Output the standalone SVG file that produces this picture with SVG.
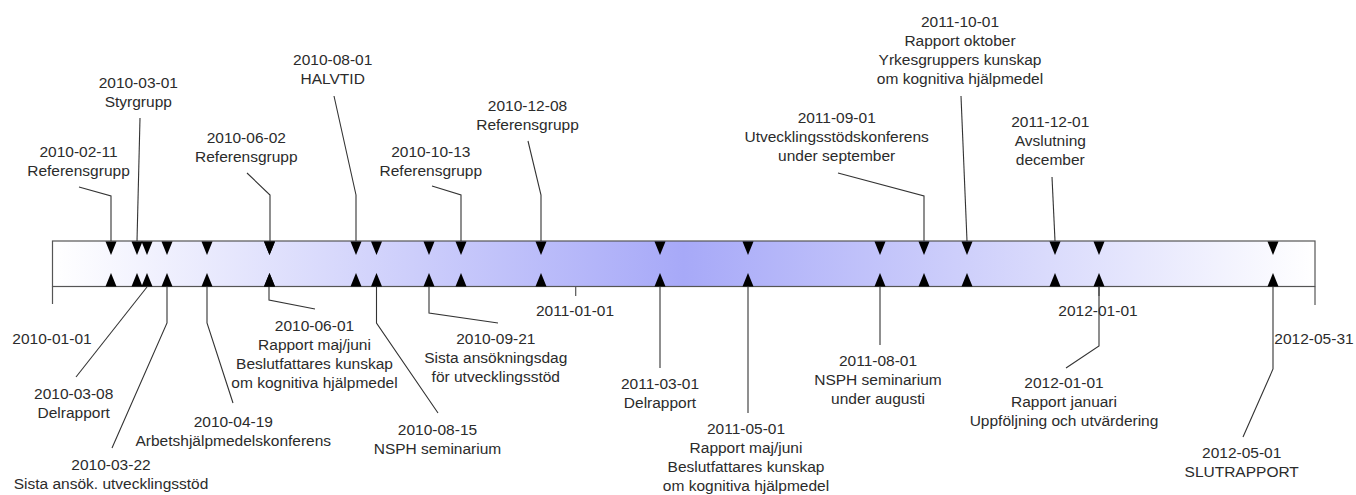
<svg xmlns="http://www.w3.org/2000/svg" xmlns:xlink="http://www.w3.org/1999/xlink" width="1356" height="495" viewBox="0 0 1356 495">
<style>
  text { font-family: "Liberation Sans", Arial, sans-serif; font-size: 15.5px; fill: #2b2b2b; text-anchor: middle; }
  .c { fill: none; stroke: #333; stroke-width: 1.1; }
  .tick { stroke: #555; stroke-width: 1.2; }
  .tri { fill: #000; }
</style>
<defs>
  <linearGradient id="barGrad" x1="0" y1="0" x2="1" y2="0">
    <stop offset="0" stop-color="#ffffff"/>
    <stop offset="0.5" stop-color="#a7a9f8"/>
    <stop offset="1" stop-color="#ffffff"/>
  </linearGradient>
  <path id="tdn" class="tri" d="M-5.5,241.5 L5.5,241.5 L0,255 Z"/>
  <path id="tup" class="tri" d="M-5.5,286.5 L5.5,286.5 L0,273 Z"/>
</defs>
<rect width="1356" height="495" fill="#ffffff"/>

<g id="timeline">
  <rect x="52.5" y="241" width="1262.5" height="45.5" fill="url(#barGrad)" stroke="#555" stroke-width="1.2"/>
  <line class="tick" x1="52.5" y1="286.5" x2="52.5" y2="304"/>
  <line class="tick" x1="575.7" y1="286.5" x2="575.7" y2="296"/>
  <line class="tick" x1="1099" y1="286.5" x2="1099" y2="296"/>
  <line class="tick" x1="1315" y1="286.5" x2="1315" y2="305"/>
</g>

<g id="scale-labels">
  <text x="52" y="344">2010-01-01</text>
  <text x="575" y="316">2011-01-01</text>
  <text x="1098" y="316">2012-01-01</text>
  <text x="1314" y="344">2012-05-31</text>
</g>

<g id="connectors">
  <polyline class="c" points="79,187 111,196 111,241"/>
  <polyline class="c" points="140,118 137,241"/>
  <polyline class="c" points="247,173 270,195 270,241"/>
  <polyline class="c" points="334,96 356,195 356,241"/>
  <polyline class="c" points="432,186 461,195 461,241"/>
  <polyline class="c" points="528,141 541,195 541,241"/>
  <polyline class="c" points="838,173 924,196 924,241"/>
  <polyline class="c" points="961,96 967,241"/>
  <polyline class="c" points="1052,177 1055,241"/>
  <polyline class="c" points="76,377 147,287"/>
  <polyline class="c" points="112,448 167,323 167,287"/>
  <polyline class="c" points="233,403 207,323 207,287"/>
  <polyline class="c" points="315,309 269,300 269,287"/>
  <polyline class="c" points="438,413 376.5,323 376.5,287"/>
  <polyline class="c" points="498,323 429,313 429,287"/>
  <polyline class="c" points="660,368 660,287"/>
  <polyline class="c" points="748,413 748,287"/>
  <polyline class="c" points="880,345 880,287"/>
  <polyline class="c" points="1066,368 1099,346 1099,287"/>
  <polyline class="c" points="1243,437 1273,369 1273,287"/>
</g>

<g id="e20100211">
  <use href="#tdn" x="111"/><use href="#tup" x="111"/>
  <text x="78.5" y="157">2010-02-11<tspan x="78.5" dy="19">Referensgrupp</tspan></text>
</g>
<g id="e20100301">
  <use href="#tdn" x="137"/><use href="#tup" x="137"/>
  <text x="138.3" y="87.5">2010-03-01<tspan x="138.3" dy="19">Styrgrupp</tspan></text>
</g>
<g id="e20100308">
  <use href="#tdn" x="147"/><use href="#tup" x="147"/>
  <text x="73.7" y="399">2010-03-08<tspan x="73.7" dy="19">Delrapport</tspan></text>
</g>
<g id="e20100322">
  <use href="#tdn" x="167"/><use href="#tup" x="167"/>
  <text x="111" y="470">2010-03-22<tspan x="111" dy="19">Sista ansök. utvecklingsstöd</tspan></text>
</g>
<g id="e20100419">
  <use href="#tdn" x="207"/><use href="#tup" x="207"/>
  <text x="233.3" y="426.7">2010-04-19<tspan x="233.3" dy="19">Arbetshjälpmedelskonferens</tspan></text>
</g>
<g id="e20100601">
  <use href="#tdn" x="269.5"/><use href="#tup" x="269.5"/>
  <text x="314.5" y="331">2010-06-01<tspan x="314.5" dy="19">Rapport maj/juni</tspan><tspan x="314.5" dy="19">Beslutfattares kunskap</tspan><tspan x="314.5" dy="19">om kognitiva hjälpmedel</tspan></text>
</g>
<g id="e20100602">
  <use href="#tdn" x="269.5"/><use href="#tup" x="269.5"/>
  <text x="246.3" y="142.5">2010-06-02<tspan x="246.3" dy="19">Referensgrupp</tspan></text>
</g>
<g id="e20100801">
  <use href="#tdn" x="356"/><use href="#tup" x="356"/>
  <text x="332.7" y="65">2010-08-01<tspan x="332.7" dy="19">HALVTID</tspan></text>
</g>
<g id="e20100815">
  <use href="#tdn" x="376.5"/><use href="#tup" x="376.5"/>
  <text x="437.5" y="435">2010-08-15<tspan x="437.5" dy="19">NSPH seminarium</tspan></text>
</g>
<g id="e20100921">
  <use href="#tdn" x="429"/><use href="#tup" x="429"/>
  <text x="495.8" y="344.3">2010-09-21<tspan x="495.8" dy="19">Sista ansökningsdag</tspan><tspan x="495.8" dy="19">för utvecklingsstöd</tspan></text>
</g>
<g id="e20101013">
  <use href="#tdn" x="461"/><use href="#tup" x="461"/>
  <text x="430.8" y="157">2010-10-13<tspan x="430.8" dy="19">Referensgrupp</tspan></text>
</g>
<g id="e20101208">
  <use href="#tdn" x="541"/><use href="#tup" x="541"/>
  <text x="527.5" y="110.7">2010-12-08<tspan x="527.5" dy="19">Referensgrupp</tspan></text>
</g>
<g id="e20110301">
  <use href="#tdn" x="660"/><use href="#tup" x="660"/>
  <text x="660" y="389.3">2011-03-01<tspan x="660" dy="19">Delrapport</tspan></text>
</g>
<g id="e20110501">
  <use href="#tdn" x="748"/><use href="#tup" x="748"/>
  <text x="746" y="434.3">2011-05-01<tspan x="746" dy="19">Rapport maj/juni</tspan><tspan x="746" dy="19">Beslutfattares kunskap</tspan><tspan x="746" dy="19">om kognitiva hjälpmedel</tspan></text>
</g>
<g id="e20110801">
  <use href="#tdn" x="880"/><use href="#tup" x="880"/>
  <text x="878" y="366">2011-08-01<tspan x="878" dy="19">NSPH seminarium</tspan><tspan x="878" dy="19">under augusti</tspan></text>
</g>
<g id="e20110901">
  <use href="#tdn" x="924"/><use href="#tup" x="924"/>
  <text x="836.7" y="123.3">2011-09-01<tspan x="836.7" dy="19">Utvecklingsstödskonferens</tspan><tspan x="836.7" dy="19">under september</tspan></text>
</g>
<g id="e20111001">
  <use href="#tdn" x="967"/><use href="#tup" x="967"/>
  <text x="960" y="26.7">2011-10-01<tspan x="960" dy="19">Rapport oktober</tspan><tspan x="960" dy="19">Yrkesgruppers kunskap</tspan><tspan x="960" dy="19">om kognitiva hjälpmedel</tspan></text>
</g>
<g id="e20111201">
  <use href="#tdn" x="1055"/><use href="#tup" x="1055"/>
  <text x="1050.3" y="127.3">2011-12-01<tspan x="1050.3" dy="19">Avslutning</tspan><tspan x="1050.3" dy="19">december</tspan></text>
</g>
<g id="e20120101">
  <use href="#tdn" x="1099"/><use href="#tup" x="1099"/>
  <text x="1064" y="388.3">2012-01-01<tspan x="1064" dy="19">Rapport januari</tspan><tspan x="1064" dy="19">Uppföljning och utvärdering</tspan></text>
</g>
<g id="e20120501">
  <use href="#tdn" x="1273"/><use href="#tup" x="1273"/>
  <text x="1241.7" y="457.7">2012-05-01<tspan x="1241.7" dy="19">SLUTRAPPORT</tspan></text>
</g>
</svg>
